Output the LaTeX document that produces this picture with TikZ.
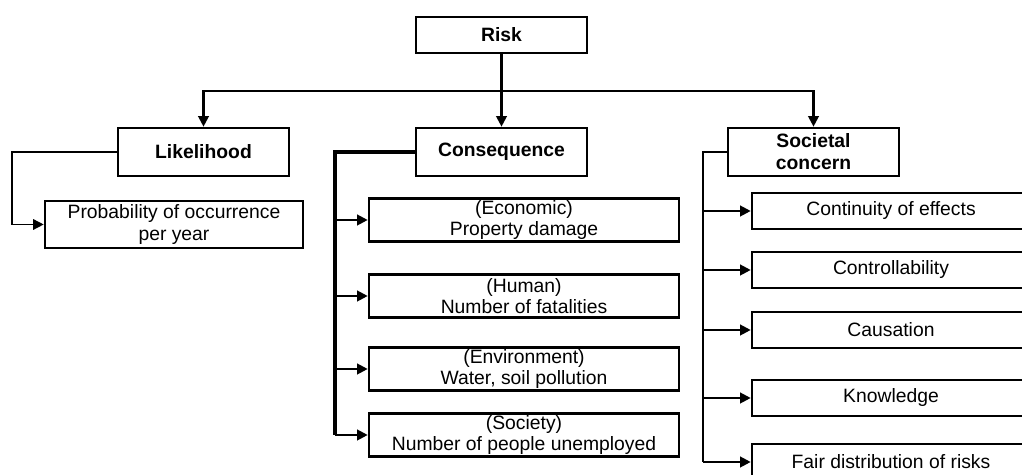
\documentclass[tikz,border=0pt]{standalone}
\usepackage{fontspec}
\setmainfont{Liberation Sans}
\usetikzlibrary{arrows.meta}

\begin{document}
\begin{tikzpicture}[x=0.02cm,y=-0.02cm,
    box/.style={draw,line width=1.5pt,align=center,inner sep=1pt,font=\fontsize{11}{12}\selectfont},
    head/.style={box,minimum width=3.42cm,minimum height=0.96cm,font=\fontsize{11}{12.5}\selectfont\bfseries},
    sub/.style={box,minimum width=6.2cm,minimum height=0.86cm},
    item/.style={box,minimum width=5.56cm,minimum height=0.72cm},
    arr/.style={line width=1.2pt,-{Triangle[length=6pt,width=6pt]}}]
    \useasboundingbox (0,0) rectangle (1022,475);
    \clip (0,0) rectangle (1022,475);

    \node (risk) at (501.5,35) [head,minimum height=0.72cm] {Risk};
    \node (like) at (203.5,152) [head] {Likelihood};
    \node (cons) at (501.5,152) [head] {Consequence};
    \node (soc) at (813.5,152) [head] {Societal\\concern};

    \node (prob) at (174,224.5) [box,minimum width=5.16cm,minimum height=0.94cm] {Probability of occurrence\\per year};

    \node (econ) at (524,220) [sub] {(Economic)\\Property damage};
    \node (human) at (524,296) [sub] {(Human)\\Number of fatalities};
    \node (env) at (524,369) [sub] {(Environment)\\Water, soil pollution};
    \node (soci) at (524,435) [sub] {(Society)\\Number of people unemployed};

    \node (cont) at (891,211) [item] {Continuity of effects};
    \node (ctrl) at (891,270) [item] {Controllability};
    \node (caus) at (891,330) [item] {Causation};
    \node (know) at (891,398) [item] {Knowledge};
    \node (fair) at (891,462) [item] {Fair distribution of risks};

    \coordinate (top) at (501.5,91);
    \coordinate (lbus) at (12,224.5);
    \coordinate (cbus) at (335,435);
    \coordinate (sbus) at (703,462);

    \draw[arr] (risk) -- (cons);
    \draw[arr] (top) -| (like);
    \draw[arr] (top) -| (soc);

    \draw[arr,line width=0.8pt] (like.west) -| (lbus) -- (prob.west);

    \draw[line width=2.2pt] (cons.west) -| (cbus);
    \foreach \n in {econ,human,env,soci}
        \draw[arr] (cbus |- \n.west) -- (\n.west);

    \draw[line width=1.2pt] (soc.west) -| (sbus);
    \foreach \n in {cont,ctrl,caus,know,fair}
        \draw[arr] (sbus |- \n.west) -- (\n.west);
\end{tikzpicture}
\end{document}
